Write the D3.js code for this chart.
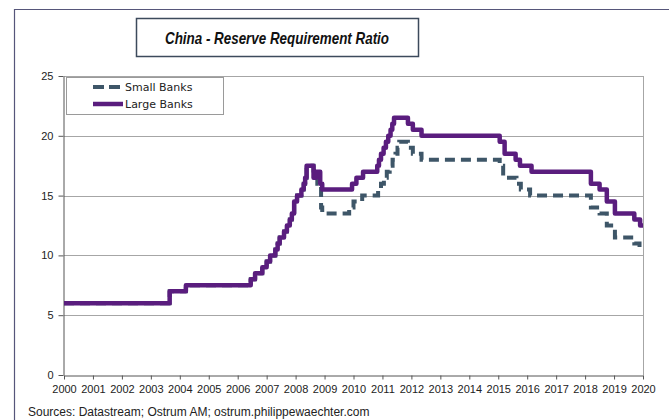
<!DOCTYPE html>
<html>
<head>
<meta charset="utf-8">
<script src="https://cdn.jsdelivr.net/npm/d3@7"></script>
<style>
  body { margin: 0; background: #fff; }
  svg { display: block; }
</style>
</head>
<body>
<div id="chart"></div>
<script>
var WIDTH = 669;
var HEIGHT = 420;

// Data (decimal year of each change, ratio in %)
var largeDates  = [2000.0, 2003.65, 2004.21, 2006.45, 2006.6, 2006.85, 2007.0, 2007.12, 2007.3, 2007.38,
                   2007.45, 2007.6, 2007.7, 2007.8, 2007.87, 2007.95, 2008.05, 2008.2, 2008.28, 2008.33,
                   2008.38, 2008.62, 2008.7, 2008.85, 2008.92, 2009.95, 2010.1, 2010.33, 2010.82, 2010.88,
                   2010.95, 2011.04, 2011.12, 2011.2, 2011.28, 2011.34, 2011.4, 2011.88, 2012.05, 2012.35,
                   2015.05, 2015.22, 2015.6, 2015.75, 2016.15, 2018.2, 2018.5, 2018.75, 2019.03, 2019.7,
                   2019.9, 2020.0];
var largeValues = [6, 7, 7.5, 8, 8.5, 9, 9.5, 10, 10.5, 11,
                   11.5, 12, 12.5, 13, 13.5, 14.5, 15, 15.5, 16, 16.5,
                   17.5, 16.5, 17, 16, 15.5, 16, 16.5, 17, 17.5, 18,
                   18.5, 19, 19.5, 20, 20.5, 21, 21.5, 21, 20.5, 20,
                   19.5, 18.5, 18, 17.5, 17, 16, 15.5, 14.5, 13.5, 13,
                   12.5, 12.5];

var smallDates  = [2000.0, 2003.65, 2004.21, 2006.45, 2006.6, 2006.85, 2007.0, 2007.12, 2007.3, 2007.38,
                   2007.45, 2007.6, 2007.7, 2007.8, 2007.87, 2007.95, 2008.05, 2008.2, 2008.28, 2008.33,
                   2008.38, 2008.62, 2008.75, 2008.88, 2008.92, 2009.85, 2010.0, 2010.3, 2010.85, 2010.95,
                   2011.05, 2011.15, 2011.25, 2011.35, 2011.45, 2011.52, 2011.58, 2011.88, 2012.05, 2012.35,
                   2015.05, 2015.17, 2015.63, 2015.78, 2016.1, 2018.2, 2018.5, 2018.75, 2019.03, 2019.7,
                   2019.88, 2020.0];
var smallValues = [6, 7, 7.5, 8, 8.5, 9, 9.5, 10, 10.5, 11,
                   11.5, 12, 12.5, 13, 13.5, 14.5, 15, 15.5, 16, 16.5,
                   17.5, 16.5, 16, 14, 13.5, 14, 14.5, 15, 15.5, 16,
                   16.5, 17, 17.5, 18, 18.5, 19, 19.5, 19, 18.5, 18,
                   17.5, 16.5, 16, 15.5, 15, 14, 13.5, 12.5, 11.5, 11,
                   10.5, 10.5];

var yearTicks = d3.range(2000, 2021);
var valueTicks = [0, 5, 10, 15, 20, 25];

var LARGE_COLOR = "#5a1d7e";
var SMALL_COLOR = "#3e5668";

var svg = d3.select("#chart").append("svg")
    .attr("width", WIDTH)
    .attr("height", HEIGHT);

// outer frame
svg.append("path")
    .attr("d", "M14.5," + HEIGHT + "V9.5H" + WIDTH)
    .attr("fill", "none")
    .attr("stroke", "#56567a")
    .attr("stroke-width", 1.2);

// title box
svg.append("rect")
    .attr("x", 136.5).attr("y", 18.5)
    .attr("width", 282).attr("height", 38)
    .attr("fill", "#fff")
    .attr("stroke", "#3c4a5c")
    .attr("stroke-width", 1.5);

svg.append("text")
    .attr("x", 277).attr("y", 44)
    .attr("text-anchor", "middle")
    .attr("textLength", 224)
    .attr("lengthAdjust", "spacingAndGlyphs")
    .style("font-family", "'Liberation Sans', Arial, sans-serif")
    .style("font-size", "16.5px")
    .style("font-weight", "bold")
    .style("font-style", "italic")
    .attr("fill", "#111")
    .text("China - Reserve Requirement Ratio");

var x = d3.scaleLinear().domain([2000, 2020]).range([64, 643]);
var y = d3.scaleLinear().domain([0, 25]).range([375, 76]);

// grid lines
svg.append("g")
    .selectAll("line")
    .data(valueTicks.filter(function(d) { return d > 0; }))
    .enter().append("line")
    .attr("x1", x(2000)).attr("x2", x(2020))
    .attr("y1", function(d) { return Math.round(y(d)) + 0.5; })
    .attr("y2", function(d) { return Math.round(y(d)) + 0.5; })
    .attr("stroke", "#a6a6a6")
    .attr("stroke-width", 1);

// right border of plot
svg.append("line")
    .attr("x1", x(2020) + 0.5).attr("x2", x(2020) + 0.5)
    .attr("y1", y(25)).attr("y2", y(0))
    .attr("stroke", "#a6a6a6");

// axes
var xAxis = svg.append("g")
    .attr("transform", "translate(0," + (y(0) + 0.5) + ")")
    .call(d3.axisBottom(x).tickValues(yearTicks).tickFormat(d3.format("d")).tickSize(4).tickSizeOuter(0));

var yAxis = svg.append("g")
    .attr("transform", "translate(" + (x(2000) - 0.5) + ",0)")
    .call(d3.axisLeft(y).tickValues(valueTicks).tickSize(5).tickSizeOuter(0));

[xAxis, yAxis].forEach(function(g) {
    g.select(".domain").attr("stroke", "#555");
    g.selectAll(".tick line").attr("stroke", "#555");
    g.selectAll("text")
        .attr("fill", "#222")
        .style("font-family", "'Liberation Sans', Arial, sans-serif")
        .style("font-size", "11px");
});
xAxis.selectAll("text").attr("dy", "0.95em");
yAxis.selectAll("text").attr("dx", "-2px");

// series
var lineGen = d3.line()
    .x(function(d) { return x(d[0]); })
    .y(function(d) { return y(d[1]); })
    .curve(d3.curveStepAfter);

var smallData = d3.zip(smallDates, smallValues);
var largeData = d3.zip(largeDates, largeValues);

svg.append("path")
    .datum(smallData)
    .attr("d", lineGen)
    .attr("fill", "none")
    .attr("stroke", SMALL_COLOR)
    .attr("stroke-width", 4)
    .attr("stroke-dasharray", "10,6");

svg.append("path")
    .datum(largeData)
    .attr("d", lineGen)
    .attr("fill", "none")
    .attr("stroke", LARGE_COLOR)
    .attr("stroke-width", 4.5)
    .attr("stroke-linejoin", "round");

// legend
var legend = svg.append("g");
legend.append("rect")
    .attr("x", 66.5).attr("y", 77.5)
    .attr("width", 157).attr("height", 37)
    .attr("fill", "#fff")
    .attr("stroke", "#9a9a9a");

var legendItems = [
    { name: "Small Banks", color: SMALL_COLOR, dash: "11,5", w: 4 },
    { name: "Large Banks", color: LARGE_COLOR, dash: null, w: 4.5 }
];

legendItems.forEach(function(d, i) {
    var ly = 87 + i * 17;
    legend.append("line")
        .attr("x1", 93).attr("x2", 123)
        .attr("y1", ly).attr("y2", ly)
        .attr("stroke", d.color)
        .attr("stroke-width", d.w)
        .attr("stroke-dasharray", d.dash);
    legend.append("text")
        .attr("x", 125).attr("y", ly + 4)
        .style("font-family", "'DejaVu Sans', Verdana, sans-serif")
        .style("font-size", "11px")
        .attr("fill", "#222")
        .text(d.name);
});

// source
svg.append("text")
    .attr("x", 28).attr("y", 416)
    .style("font-family", "'Liberation Sans', Arial, sans-serif")
    .style("font-size", "12px")
    .attr("fill", "#222")
    .text("Sources: Datastream; Ostrum AM; ostrum.philippewaechter.com");
</script>
</body>
</html>
